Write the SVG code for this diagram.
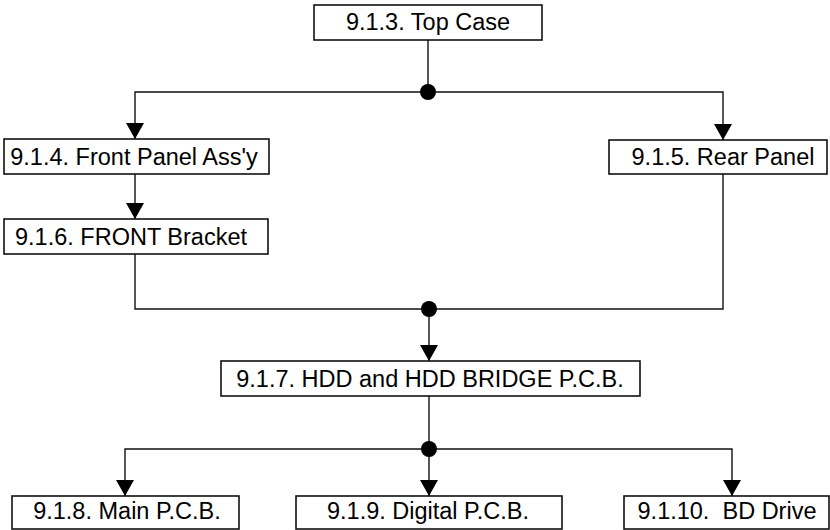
<svg xmlns="http://www.w3.org/2000/svg" width="830" height="530" viewBox="0 0 830 530">
<defs>
<style>
.box{fill:#fff;stroke:#111;stroke-width:1.6}
.lbl{font-family:"Liberation Sans",Arial,sans-serif;font-size:23.5px;fill:#000;text-anchor:middle}
.ln{fill:none;stroke:#111;stroke-width:1.4}
.dot{fill:#000}
</style>
<marker id="ah" markerUnits="userSpaceOnUse" markerWidth="16" markerHeight="18" refX="16" refY="9" orient="auto" viewBox="0 0 16 18">
<path d="M0,0 L16,9 L0,18 Z" fill="#000"/>
</marker>
</defs>
<g id="connectors">
<path class="ln" d="M428,40 V92"/>
<path class="ln" d="M428,92 H135 V139" marker-end="url(#ah)"/>
<path class="ln" d="M428,92 H723 V140" marker-end="url(#ah)"/>
<path class="ln" d="M135,174 V219" marker-end="url(#ah)"/>
<path class="ln" d="M135,254 V309 H723 V174"/>
<path class="ln" d="M429,309 V361" marker-end="url(#ah)"/>
<path class="ln" d="M429,396 V449"/>
<path class="ln" d="M429,449 H125 V496" marker-end="url(#ah)"/>
<path class="ln" d="M429,449 V496" marker-end="url(#ah)"/>
<path class="ln" d="M429,449 H732 V496" marker-end="url(#ah)"/>
<circle class="dot" cx="428" cy="92" r="8"/>
<circle class="dot" cx="429" cy="309" r="8"/>
<circle class="dot" cx="429" cy="449" r="8"/>
</g>
<g id="n913"><rect class="box" x="314" y="5" width="228" height="35"/><text class="lbl" x="428" y="30">9.1.3. Top Case</text></g>
<g id="n914"><rect class="box" x="4" y="139" width="265" height="35"/><text class="lbl" x="134" y="165">9.1.4. Front Panel Ass'y</text></g>
<g id="n915"><rect class="box" x="609" y="140" width="218" height="34"/><text class="lbl" x="723" y="165">9.1.5. Rear Panel</text></g>
<g id="n916"><rect class="box" x="4" y="219" width="264" height="35"/><text class="lbl" x="131" y="245">9.1.6. FRONT Bracket</text></g>
<g id="n917"><rect class="box" x="221" y="361" width="419" height="35"/><text class="lbl" x="430" y="387">9.1.7. HDD and HDD BRIDGE P.C.B.</text></g>
<g id="n918"><rect class="box" x="12" y="496" width="227" height="33"/><text class="lbl" x="127" y="519">9.1.8. Main P.C.B.</text></g>
<g id="n919"><rect class="box" x="296" y="496" width="266" height="33"/><text class="lbl" x="428" y="519">9.1.9. Digital P.C.B.</text></g>
<g id="n9110"><rect class="box" x="624" y="496" width="205" height="33"/><text class="lbl" x="727" y="519" xml:space="preserve">9.1.10.  BD Drive</text></g>
</svg>
